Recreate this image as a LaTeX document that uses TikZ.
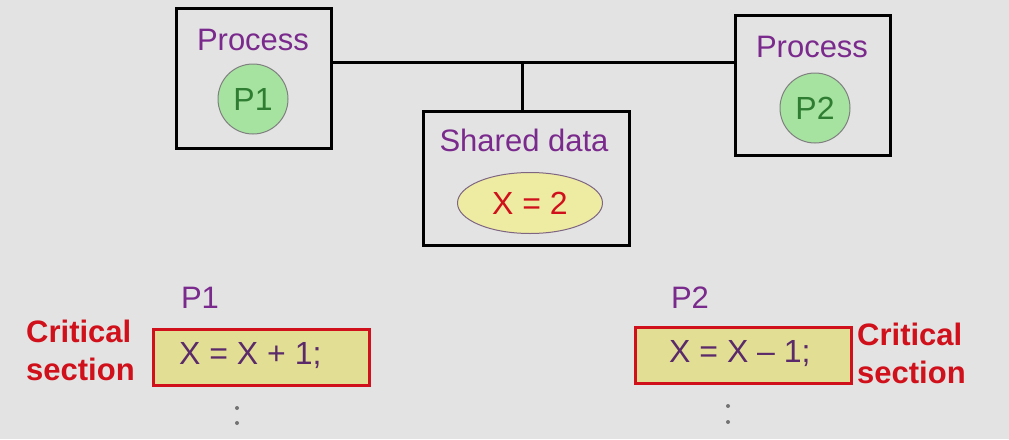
\documentclass[tikz,border=0pt]{standalone}
\usepackage{fontspec}
\setmainfont{Liberation Sans}
\usetikzlibrary{shapes.geometric}
\definecolor{bg}{HTML}{E3E3E3}
\definecolor{purp}{HTML}{7A2A8C}
\definecolor{redt}{HTML}{D0101A}
\definecolor{grn}{HTML}{2E7D32}
\definecolor{grnfill}{HTML}{A6E3A0}
\definecolor{yell}{HTML}{EEEBA2}
\definecolor{boxy}{HTML}{E2DE94}
\definecolor{codec}{HTML}{5A2A6A}
\tikzset{
  x=1pt,y=-1pt,
  proc/.style={draw=black,line width=3pt,minimum width=155pt,minimum height=140pt,inner sep=0pt},
  lbl/.style={text=purp,font=\fontsize{31}{36}\selectfont,inner sep=0pt},
  pcirc/.style={circle,draw=gray,line width=1pt,fill=grnfill,minimum size=70pt,inner sep=0pt,text=grn,font=\fontsize{32}{36}\selectfont},
  cs/.style={draw=redt,line width=3pt,fill=boxy,minimum width=216pt,minimum height=56pt,inner sep=0pt},
  code/.style={text=codec,font=\fontsize{32}{36}\selectfont,inner sep=0pt,anchor=west},
  crit/.style={text=redt,font=\bfseries\fontsize{31}{38}\selectfont,align=left,inner sep=0pt},
  conn/.style={line width=3pt,draw=black},
  dot/.style={circle,fill=gray!90!black,inner sep=0pt,minimum size=4pt}
}
\begin{document}
\begin{tikzpicture}
\fill[bg] (0,0) rectangle (1009,439);
\useasboundingbox (0,0) rectangle (1009,439);
% process boxes
\node[proc] (b1) at (253.5,78) {};
\node[lbl] (t1) at (253,40) {Process};
\node[pcirc] (c1) at (253,99) {P1};
\node[proc] (b2) at (812.5,85) {};
\node[lbl] (t2) at (812,47) {Process};
\node[pcirc] (c2) at (815,108) {P2};
% shared data
\node[proc,minimum width=206pt,minimum height=134pt] (sd) at (526,178) {};
\node[lbl] (st) at (524,140) {Shared data};
\node[ellipse,draw=gray!70!purp,line width=1pt,fill=yell,minimum width=145pt,minimum height=61pt,inner sep=0pt,text=redt,font=\fontsize{32}{36}\selectfont] (x2) at (530,203) {X = 2};
% connectors
\coordinate (j) at (522,62);
\draw[conn] (b1.east |- j) -- (b2.west |- j);
\draw[conn] (j) -- (j |- sd.north);
% bottom left
\node[lbl] (p1) at (200,298) {P1};
\node[cs] (cs1) at (261.5,357) {};
\node[code] (k1) at (179,356) {X = X + 1;};
\node[crit,anchor=west] (cr1) at (26,350) {Critical\\section};
\node[dot] (d1a) at (237,408) {};
\node[dot] (d1b) at (237,423) {};
% bottom right
\node[lbl] (p2) at (690,298) {P2};
\node[cs] (cs2) at (743,355) {};
\node[code] (k2) at (669,354) {X = X -- 1;};
\node[crit,anchor=west] (cr2) at (857,353) {Critical\\section};
\node[dot] (d2a) at (728,406) {};
\node[dot] (d2b) at (728,422) {};
\end{tikzpicture}
\end{document}
